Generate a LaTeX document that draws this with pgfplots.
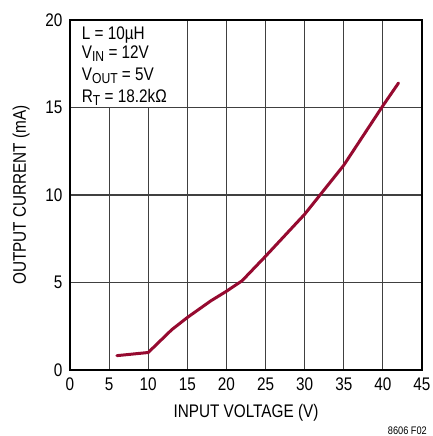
\documentclass[border=0pt]{standalone}
\usepackage{pgfplots}
\pgfplotsset{compat=1.18}
\usepackage{fontspec}
\setmainfont{Liberation Sans}[FakeStretch=0.84]
\definecolor{curve}{RGB}{150,10,48}
\newcommand{\lbl}{\fontsize{18.3}{21}\selectfont}
\newcommand{\sub}[1]{\lower3bp\hbox{\fontsize{14.5}{14}\selectfont #1}}
\begin{document}
\begin{tikzpicture}
\begin{axis}[
  scale only axis, width=352bp, height=350bp,
  xmin=0, xmax=45, ymin=0, ymax=20,
  xtick={0,5,...,45}, ytick={0,5,...,20},
  grid=major,
  major grid style={draw=black!75, line width=1.2bp},
  axis line style={line width=2.4bp},
  major tick length=0pt,
  tick label style={font=\lbl},
  /pgf/number format/assume math mode=true,
  xticklabel style={yshift=-4bp},
  yticklabel style={xshift=-4bp},
  xlabel={INPUT VOLTAGE (V)},
  ylabel={OUTPUT CURRENT (mA)},
  label style={font=\lbl},
  xlabel style={at={(axis description cs:0.5,-0.123)}, anchor=center},
  ylabel style={at={(axis description cs:-0.139,0.5)}, anchor=center},
]
\coordinate (O) at (rel axis cs:0,0);
\addplot[curve, line width=3bp, line join=round, line cap=round] coordinates {
  (6,0.82) (10,1.0) (13,2.3) (15,3.0) (18,3.95) (20,4.5) (22,5.1)
  (25,6.5) (30,8.9) (35,11.7) (40,15.1) (42,16.4)
};
\fill[white] ([shift={(1.3bp,-1.3bp)}]axis cs:0,20) rectangle ([shift={(0bp,0.7bp)}]axis cs:13.8,15);
\node[anchor=base west, inner sep=0pt, font=\lbl, xshift=11.7bp, yshift=-20bp] at (axis cs:0,20) {L = 10µH};
\node[anchor=base west, inner sep=0pt, font=\lbl, xshift=11.7bp, yshift=-38.5bp] at (axis cs:0,20) {V\sub{IN} = 12V};
\node[anchor=base west, inner sep=0pt, font=\lbl, xshift=11.7bp, yshift=-61bp] at (axis cs:0,20) {V\sub{OUT} = 5V};
\node[anchor=base west, inner sep=0pt, font=\lbl, xshift=11.7bp, yshift=-83bp] at (axis cs:0,20) {R\sub{T} = 18.2kΩ};
\end{axis}
\node[anchor=base east, inner sep=0pt, font=\fontsize{11}{13}\selectfont] at ([shift={(357bp,-64bp)}]O) {8606 F02};
\pgfresetboundingbox
\path ([shift={(-70bp,-66bp)}]O) rectangle ++(433bp,436bp);
\end{tikzpicture}
\end{document}
